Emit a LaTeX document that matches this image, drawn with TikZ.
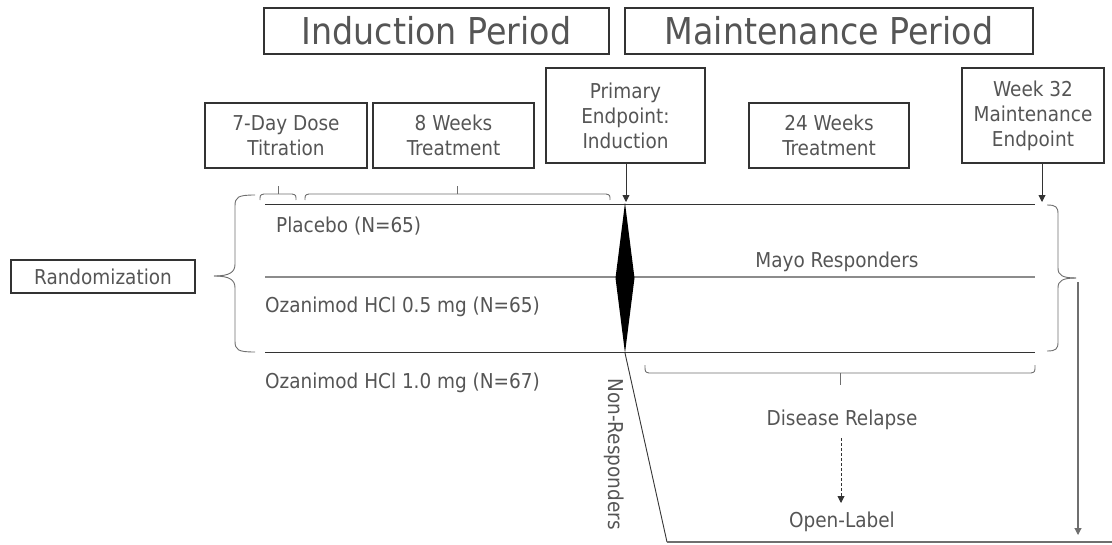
\documentclass[tikz,border=0pt]{standalone}
\usepackage{fontspec}
\setmainfont{DejaVu Sans Condensed}
\usetikzlibrary{arrows.meta}
\definecolor{txt}{HTML}{555555}
\definecolor{rule}{HTML}{333333}
\definecolor{soft}{HTML}{6F6F6F}
\definecolor{pale}{HTML}{8C8C8C}
\begin{document}
\begin{tikzpicture}[x=1pt,y=-1pt,
  box/.style={draw=rule, line width=1.3pt, text=txt, align=center, inner sep=0pt},
  big/.style={font=\fontsize{37}{40}\selectfont},
  small/.style={font=\fontsize{20.5}{25}\selectfont},
  label/.style={text=txt, inner sep=0pt, font=\fontsize{20.5}{25}\selectfont},
  thin/.style={draw=rule, line width=0.9pt},
  bracket/.style={draw=soft, line width=0.9pt},
  tip/.style={-{Triangle[length=7pt,width=7pt]}}
]
\useasboundingbox (0,0) rectangle (1112,544);

% period headings
\node[box, big, minimum width=345pt, minimum height=46pt] (ind) at (436.5,31) {Induction Period};
\node[box, big, minimum width=408pt, minimum height=46pt] (mnt) at (829,31) {Maintenance Period};

% timeline boxes
\node[box, small, minimum width=162pt, minimum height=65pt] (titr) at (286,135.5) {7-Day Dose\\Titration};
\node[box, small, minimum width=161pt, minimum height=65pt] (eight) at (453.5,135.5) {8 Weeks\\Treatment};
\node[box, small, minimum width=159pt, minimum height=95pt] (prim) at (625.5,115.5) {Primary\\Endpoint:\\Induction};
\node[box, small, minimum width=160pt, minimum height=65pt] (tw4) at (829,135.5) {24 Weeks\\Treatment};
\node[box, small, minimum width=142pt, minimum height=95pt] (wk32) at (1033,115.5) {Week 32\\Maintenance\\Endpoint};
\node[box, small, minimum width=184pt, minimum height=33pt] (rand) at (103,276.5) {Randomization};

% arm labels
\node[label, anchor=west] (plac) at (276,226) {Placebo (N=65)};
\node[label, anchor=west] (oz05) at (265,307) {Ozanimod HCl 0.5 mg (N=65)};
\node[label, anchor=west] (oz10) at (265,383) {Ozanimod HCl 1.0 mg (N=67)};
\node[label] (mayo) at (837,262) {Mayo Responders};
\node[label] (relap) at (842,420) {Disease Relapse};
\node[label] (open) at (842,522) {Open-Label};
\node[label, rotate=-90] (nonr) at (614,454) {Non-Responders};

% timeline rules
\coordinate (topL) at (265,204);   \coordinate (topR) at (1035,204);
\coordinate (midL) at (265,277);   \coordinate (midR) at (1035,277);
\coordinate (botL) at (265,352);   \coordinate (botR) at (1035,352);
\draw[thin] (topL) -- (topR);
\draw[draw=pale, line width=2pt] (midL) -- (midR);
\draw[thin] (botL) -- (botR);

% end of induction marker
\coordinate (dTop) at (625,203);
\coordinate (dBot) at (625,353);
\fill[black] (dTop) -- (634.5,278) -- (dBot) -- (615.5,278) -- cycle;

% endpoint arrows
\coordinate (primHit) at (626,202);
\coordinate (wkHit) at (1042,202);
\draw[thin, tip] (prim.south -| primHit) -- (primHit);
\draw[thin, tip] (wk32.south -| wkHit) -- (wkHit);

% randomization brace
\coordinate (randTip) at (214,276);
\draw[bracket] (255,195) .. controls (238,195) and (235,197) .. (235,206) -- (235,264)
  .. controls (235,272) and (230,276) .. (randTip);
\draw[bracket] (255,352) .. controls (238,352) and (235,350) .. (235,341) -- (235,288)
  .. controls (235,280) and (230,276) .. (randTip);

% titration and treatment brackets
\draw[bracket] (260,200) .. controls (260,195) .. (264,194) -- (292,194) .. controls (296,195) .. (296,200);
\draw[bracket] (278,194) -- (278,186);
\draw[bracket] (305,200) .. controls (305,195) .. (309,194) -- (606,194) .. controls (610,195) .. (610,200);
\draw[bracket] (457,194) -- (457,186);

% relapse bracket
\draw[bracket] (645,365) .. controls (645,372) .. (649,373) -- (1031,373) .. controls (1035,372) .. (1035,365);
\draw[bracket] (840,373) -- (840,385);
\coordinate (dsS) at (841,438);
\coordinate (dsE) at (841,503);
\draw[thin, dash pattern=on 3pt off 2pt, tip] (dsS) -- (dsE);

% maintenance brace
\coordinate (mTip) at (1076,278);
\draw[bracket] (1047,205) .. controls (1056,205) and (1058,207) .. (1058,214) -- (1058,268)
  .. controls (1058,275) and (1062,278) .. (mTip);
\draw[bracket] (1047,351) .. controls (1056,351) and (1058,349) .. (1058,342) -- (1058,288)
  .. controls (1058,281) and (1062,278) .. (mTip);

% exit paths
\coordinate (outTop) at (1078,282);
\coordinate (outEnd) at (1078,535);
\draw[draw=soft, line width=1.1pt, tip] (outTop) -- (outEnd);
\coordinate (nrFoot) at (667,542);
\coordinate (nrEnd) at (1112,542);
\draw[thin] (dBot) -- (nrFoot);
\draw[draw=soft, line width=1.3pt] (nrFoot) -- (nrEnd);
\end{tikzpicture}
\end{document}
